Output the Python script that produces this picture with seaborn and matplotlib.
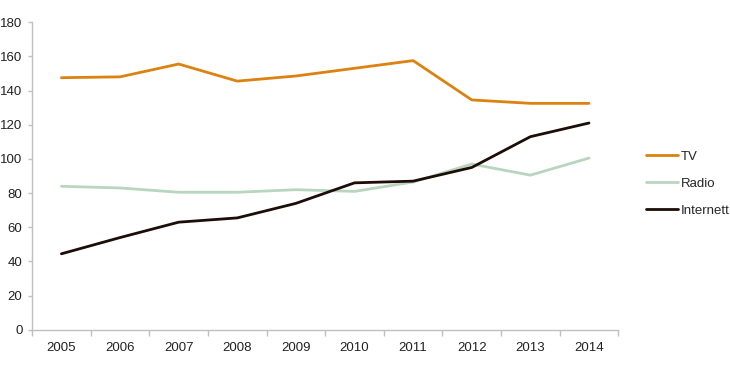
import numpy as np
import pandas as pd
import matplotlib
matplotlib.use("Agg")
import matplotlib.pyplot as plt
import seaborn as sns

### Data
years = ["2005", "2006", "2007", "2008", "2009", "2010", "2011", "2012", "2013", "2014"]
tv = [147.5, 148, 155.5, 145.5, 148.5, 153, 157.5, 134.5, 132.5, 132.5]
radio = [84, 83, 80.5, 80.5, 82, 81, 86.5, 97, 90.5, 100.5]
internett = [44.5, 54, 63, 65.5, 74, 86, 87, 95, 113, 121]

series_names = ["TV", "Radio", "Internett"]
colors = ["#dc8210", "#b8d6bf", "#1c0d08"]

df = pd.DataFrame({
    "idx": list(range(len(years))) * 3,
    "value": tv + radio + internett,
    "serie": [s for s in series_names for _ in years],
})

### Plot
sns.set_style("white")
plt.rcParams["font.family"] = ["Liberation Sans", "DejaVu Sans"]

fig = plt.figure(figsize=(7.3, 3.69), dpi=100)
ax = fig.add_axes([0.044, 0.106, 0.803, 0.834])

sns.lineplot(data=df, x="idx", y="value", hue="serie", hue_order=series_names,
             palette=colors, linewidth=2.0, ax=ax)

ax.set_xlim(-0.5, len(years) - 0.5)
ax.set_ylim(0, 180)
ax.set_yticks(np.arange(0, 181, 20))
ax.set_xticks(range(len(years)))
ax.set_xticklabels(years)
ax.set_xticks(np.arange(-0.5, len(years), 1), minor=True)
ax.tick_params(axis="x", which="major", length=0, pad=9, labelsize=9.5, colors="#222222")
ax.tick_params(axis="x", which="minor", length=4, width=1, color="#c0c0c0", direction="out", bottom=True)
ax.tick_params(axis="y", length=3, width=1, color="#c0c0c0", direction="out", left=True,
               labelsize=9.5, labelcolor="#222222", pad=4)
ax.set_xlabel(""); ax.set_ylabel("")

for side in ["top", "right"]:
    ax.spines[side].set_visible(False)
for side in ["left", "bottom"]:
    ax.spines[side].set_color("#c0c0c0")
    ax.spines[side].set_linewidth(1)

leg = ax.legend(loc="center left", bbox_to_anchor=(1.034, 0.475), frameon=False,
                fontsize=9.5, handlelength=2.4, handletextpad=0.2, labelspacing=1.1,
                borderaxespad=0.2)
for line in leg.get_lines():
    line.set_linewidth(2.0)

plt.savefig("out.png", dpi=100)
